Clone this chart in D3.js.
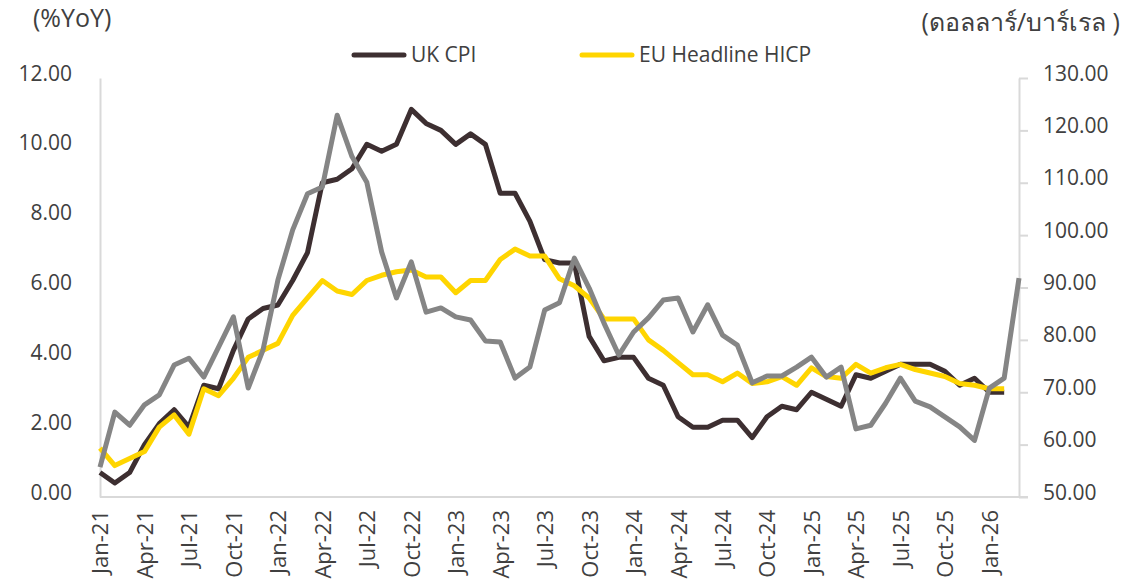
<!DOCTYPE html>
<html>
<head>
<meta charset="utf-8">
<script src="https://cdn.jsdelivr.net/npm/d3@7"></script>
<style>
  html, body { margin: 0; padding: 0; background: #ffffff; }
  svg text { font-family: "Open Sans", "Noto Sans", sans-serif; fill: #404040; }
</style>
</head>
<body>
<svg id="chart" width="1145" height="588"></svg>
<script>
// ---- data ----
const months = ["Jan-21","Feb-21","Mar-21","Apr-21","May-21","Jun-21","Jul-21","Aug-21","Sep-21","Oct-21","Nov-21","Dec-21",
  "Jan-22","Feb-22","Mar-22","Apr-22","May-22","Jun-22","Jul-22","Aug-22","Sep-22","Oct-22","Nov-22","Dec-22",
  "Jan-23","Feb-23","Mar-23","Apr-23","May-23","Jun-23","Jul-23","Aug-23","Sep-23","Oct-23","Nov-23","Dec-23",
  "Jan-24","Feb-24","Mar-24","Apr-24","May-24","Jun-24","Jul-24","Aug-24","Sep-24","Oct-24","Nov-24","Dec-24",
  "Jan-25","Feb-25","Mar-25","Apr-25","May-25","Jun-25","Jul-25","Aug-25","Sep-25","Oct-25","Nov-25","Dec-25",
  "Jan-26","Feb-26","Mar-26"];
const ukCPI = [0.7,0.4,0.7,1.5,2.1,2.5,2.0,3.2,3.1,4.2,5.1,5.4,
  5.5,6.2,7.0,9.0,9.1,9.4,10.1,9.9,10.1,11.1,10.7,10.5,
  10.1,10.4,10.1,8.7,8.7,7.9,6.8,6.7,6.7,4.6,3.9,4.0,
  4.0,3.4,3.2,2.3,2.0,2.0,2.2,2.2,1.7,2.3,2.6,2.5,
  3.0,2.8,2.6,3.5,3.4,3.6,3.8,3.8,3.8,3.6,3.2,3.4,
  3.0,3.0];
const euHICP = [1.4,0.9,1.1,1.3,2.0,2.35,1.8,3.1,2.9,3.4,4.0,4.2,
  4.4,5.2,5.7,6.2,5.9,5.8,6.2,6.35,6.45,6.5,6.3,6.3,
  5.85,6.2,6.2,6.8,7.1,6.9,6.9,6.25,6.05,5.7,5.1,5.1,
  5.1,4.5,4.2,3.85,3.5,3.5,3.3,3.55,3.25,3.3,3.45,3.2,
  3.7,3.45,3.4,3.8,3.55,3.7,3.8,3.65,3.55,3.45,3.25,3.2,
  3.1,3.1];
const oilPrice = [55.7,66.2,63.7,67.6,69.5,75.2,76.5,72.9,78.6,84.4,70.8,78.1,
  91.4,101.0,107.9,109.2,122.9,115.0,110.1,96.8,88.0,94.9,85.3,86.1,
  84.4,83.8,79.8,79.6,72.7,74.8,85.7,87.1,95.6,89.9,83.2,77.1,
  81.5,84.2,87.6,88.0,81.5,86.7,80.9,79.0,71.8,73.1,73.1,74.8,
  76.7,72.9,74.8,63.0,63.7,67.9,72.7,68.3,67.2,65.3,63.4,60.8,
  70.8,72.7,91.8];
const leftTicks = [0,2,4,6,8,10,12];
const rightTicks = [50,60,70,80,90,100,110,120,130];
const xTickLabels = months.filter((m, i) => i % 3 === 0);
const seriesNames = ["UK CPI", "EU Headline HICP"];
const leftTitle = "(%YoY)";
const rightTitle = "(ดอลลาร์/บาร์เรล )";

// ---- layout ----
const svg = d3.select("#chart");
const plot = { left: 100, right: 1019, top: 78, bottom: 497 };
const fmt = d3.format(".2f");

const x = d3.scalePoint().domain(months).range([plot.left, plot.right]);
const yL = d3.scaleLinear().domain([0, 12]).range([plot.bottom, plot.top]);
const yR = d3.scaleLinear().domain([50, 130]).range([plot.bottom, plot.top]);

const axisColor = "#d9d9d9";

// left axis
const gL = svg.append("g").attr("transform", `translate(${plot.left},0)`)
  .call(d3.axisLeft(yL).tickValues(leftTicks).tickSize(0).tickPadding(28).tickFormat(fmt));
gL.select(".domain").attr("stroke", axisColor).attr("stroke-width", 2);
gL.selectAll("text").attr("font-size", 21).attr("dy", "0.1em").attr("fill", "#404040");

// right axis
const gR = svg.append("g").attr("transform", `translate(${plot.right},0)`)
  .call(d3.axisRight(yR).tickValues(rightTicks).tickSize(9).tickSizeOuter(0).tickPadding(15).tickFormat(fmt));
gR.select(".domain").attr("stroke", axisColor).attr("stroke-width", 2);
gR.selectAll("line").attr("stroke", axisColor).attr("stroke-width", 2);
gR.selectAll("text").attr("font-size", 21).attr("dy", "0.1em").attr("fill", "#404040");

// bottom axis
const gB = svg.append("g").attr("transform", `translate(0,${plot.bottom})`)
  .call(d3.axisBottom(x).tickValues(xTickLabels).tickSize(0).tickSizeOuter(0).tickPadding(0));
gB.select(".domain").attr("stroke", axisColor).attr("stroke-width", 2)
  .attr("d", `M${plot.left},0H${plot.right + 9}`);
gB.selectAll("text")
  .attr("font-size", 22)
  .attr("text-anchor", "end")
  .attr("transform", "rotate(-90)")
  .attr("x", -13).attr("y", 0).attr("dy", "0.36em")
  .attr("fill", "#404040");

// titles
svg.append("text").attr("x", 33).attr("y", 27).attr("font-size", 25).text(leftTitle);
svg.append("text").attr("x", 1120).attr("y", 31).attr("font-size", 25).attr("text-anchor", "end").text(rightTitle);

// lines
const lineL = d3.line().x((d, i) => x(months[i])).y(d => yL(d));
const lineR = d3.line().x((d, i) => x(months[i])).y(d => yR(d));

svg.append("path").datum(ukCPI).attr("d", lineL)
  .attr("fill", "none").attr("stroke", "#3d2f31").attr("stroke-width", 5).attr("stroke-linejoin", "round");
svg.append("path").datum(euHICP).attr("d", lineL)
  .attr("fill", "none").attr("stroke", "#ffd500").attr("stroke-width", 5).attr("stroke-linejoin", "round");
svg.append("path").datum(oilPrice).attr("d", lineR)
  .attr("fill", "none").attr("stroke", "#858585").attr("stroke-width", 5).attr("stroke-linejoin", "round");

// legend
const legendItems = [
  { name: seriesNames[0], color: "#3d2f31", x: 352 },
  { name: seriesNames[1], color: "#ffd500", x: 580 }
];
const lg = svg.append("g");
legendItems.forEach(it => {
  lg.append("line").attr("x1", it.x + 2).attr("x2", it.x + 52).attr("y1", 55).attr("y2", 55)
    .attr("stroke", it.color).attr("stroke-width", 5).attr("stroke-linecap", "round");
  lg.append("text").attr("x", it.x + 59).attr("y", 55).attr("dy", "0.35em").attr("font-size", 21).text(it.name);
});
</script>
</body>
</html>
